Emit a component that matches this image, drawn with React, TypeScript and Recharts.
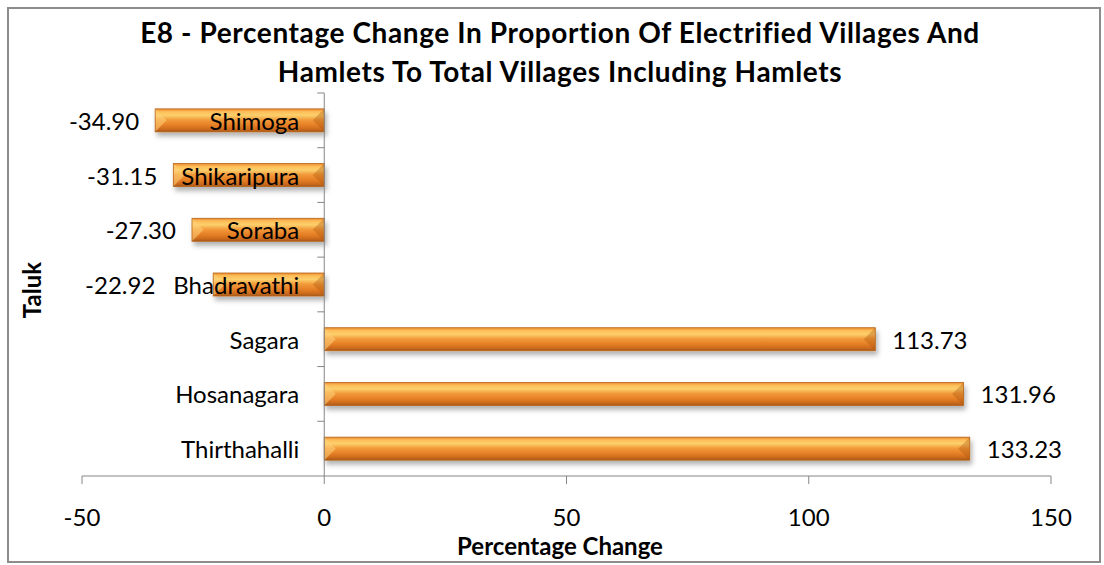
import { Bar, BarChart, LabelList, ReferenceLine, XAxis, YAxis } from 'recharts';

const taluks = ['Shimoga', 'Shikaripura', 'Soraba', 'Bhadravathi', 'Sagara', 'Hosanagara', 'Thirthahalli'];
const changes = [-34.9, -31.15, -27.3, -22.92, 113.73, 131.96, 133.23];
const xTicks = [-50, 0, 50, 100, 150];

const data = taluks.map((taluk, i) => ({ taluk, change: changes[i] }));

const FONT = 'Lato, "Open Sans", sans-serif';
const AXIS = '#868686';
const BAR_RATIO = 0.42;
const LABEL_SIZE = 24;

// rough text width so the value label can step aside from the taluk name (Excel does the same)
let ctx: CanvasRenderingContext2D | null = null;
function textWidth(s: string) {
  if (!ctx) ctx = document.createElement('canvas').getContext('2d');
  if (!ctx) return s.length * LABEL_SIZE * 0.5;
  ctx.font = `${LABEL_SIZE}px Lato`;
  return ctx.measureText(s).width;
}

function BevelBar(props: any) {
  const { x, y, width, height } = props;
  const left = Math.min(x, x + width);
  const w = Math.abs(width);
  const h = Math.abs(height);
  const b = Math.min(h / 2, w / 2);
  return (
    <g filter="url(#barShadow)">
      <rect x={left} y={y} width={w} height={h} fill="url(#barFill)" />
      <polygon points={`${left},${y} ${left + b},${y + h / 2} ${left},${y + h}`} fill="#ffd27a" fillOpacity={0.55} />
      <polygon
        points={`${left + w},${y} ${left + w - b},${y + h / 2} ${left + w},${y + h}`}
        fill="#a8520f"
        fillOpacity={0.35}
      />
      <rect x={left} y={y} width={w} height={h} fill="none" stroke="#b8651a" strokeWidth={0.8} />
    </g>
  );
}

function zeroOf(props: any) {
  const { x, width, index } = props;
  return changes[index] < 0 ? Math.max(x, x + width) : Math.min(x, x + width);
}

function TalukLabel(props: any) {
  const { y, height, value } = props;
  const zx = zeroOf(props);
  const cy = y + height / 2;
  const band = Math.abs(height) / BAR_RATIO;
  return (
    <g>
      <line x1={zx - 7} x2={zx} y1={cy - band / 2} y2={cy - band / 2} stroke={AXIS} />
      <text
        x={zx - 25}
        y={cy}
        textAnchor="end"
        dominantBaseline="central"
        fontSize={LABEL_SIZE}
        fontFamily={FONT}
        fill="#000"
      >
        {value}
      </text>
    </g>
  );
}

function ValueLabel(props: any) {
  const { x, y, width, height, value, index } = props;
  const cy = y + height / 2;
  const neg = value < 0;
  const end = neg ? Math.min(x, x + width) : Math.max(x, x + width);
  let tx = neg ? end - 16 : end + 17;
  if (neg) {
    const nameLeft = zeroOf(props) - 25 - textWidth(taluks[index]);
    tx = Math.min(tx, nameLeft - 18);
  }
  return (
    <text
      x={tx}
      y={cy}
      textAnchor={neg ? 'end' : 'start'}
      dominantBaseline="central"
      fontSize={LABEL_SIZE}
      fontFamily={FONT}
      fill="#000"
    >
      {Number(value).toFixed(2)}
    </text>
  );
}

export default function App() {
  return (
    <div style={{ position: 'absolute', left: 0, top: 0, width: 1104, height: 565, background: '#fff', fontFamily: FONT }}>
      <div
        style={{
          position: 'absolute',
          left: 7,
          top: 7,
          width: 1094,
          height: 556,
          border: '2px solid #8c8c8c',
          boxSizing: 'border-box',
        }}
      />
      <div
        style={{
          position: 'absolute',
          left: 0,
          width: 1120,
          top: 13,
          textAlign: 'center',
          fontWeight: 700,
          fontSize: 28,
          letterSpacing: 0.6,
          lineHeight: '39px',
          color: '#000',
        }}
      >
        E8 - Percentage Change In Proportion Of Electrified Villages And
        <br />
        Hamlets To Total Villages Including Hamlets
      </div>
      <BarChart
        width={1104}
        height={565}
        data={data}
        layout="vertical"
        margin={{ top: 93, right: 53, bottom: 29, left: 82 }}
        barCategoryGap="29%"
        style={{ position: 'absolute', left: 0, top: 0 }}
      >
        <defs>
          <linearGradient id="barFill" x1="0" y1="0" x2="0" y2="1">
            <stop offset="0%" stopColor="#e98a2e" />
            <stop offset="12%" stopColor="#fdbd58" />
            <stop offset="28%" stopColor="#fcd06c" />
            <stop offset="48%" stopColor="#f29a3a" />
            <stop offset="72%" stopColor="#e57e25" />
            <stop offset="90%" stopColor="#c9691c" />
            <stop offset="100%" stopColor="#a2561a" />
          </linearGradient>
          <filter id="barShadow" x="-5%" y="-30%" width="110%" height="180%">
            <feDropShadow dx="2" dy="4" stdDeviation="2.5" floodColor="#000" floodOpacity="0.3" />
          </filter>
        </defs>
        <XAxis
          type="number"
          domain={[-50, 150]}
          ticks={xTicks}
          height={60}
          stroke={AXIS}
          tickSize={8}
          tickMargin={25}
          tick={{ fontSize: 24, fontFamily: FONT, fill: '#000' }}
        />
        <YAxis type="category" dataKey="taluk" hide width={0} />
        <ReferenceLine x={0} stroke={AXIS} />
        <Bar dataKey="change" shape={<BevelBar />} isAnimationActive={false}>
          <LabelList dataKey="taluk" content={<TalukLabel />} />
          <LabelList dataKey="change" content={<ValueLabel />} />
        </Bar>
      </BarChart>
      <div
        style={{
          position: 'absolute',
          left: 0,
          width: 1120,
          top: 533,
          textAlign: 'center',
          fontWeight: 700,
          fontSize: 24,
          lineHeight: '26px',
          color: '#000',
        }}
      >
        Percentage Change
      </div>
      <div
        style={{
          position: 'absolute',
          left: 32,
          top: 290,
          transform: 'translate(-50%, -50%) rotate(-90deg)',
          fontWeight: 700,
          fontSize: 24,
          lineHeight: '26px',
          color: '#000',
          whiteSpace: 'nowrap',
        }}
      >
        Taluk
      </div>
    </div>
  );
}
